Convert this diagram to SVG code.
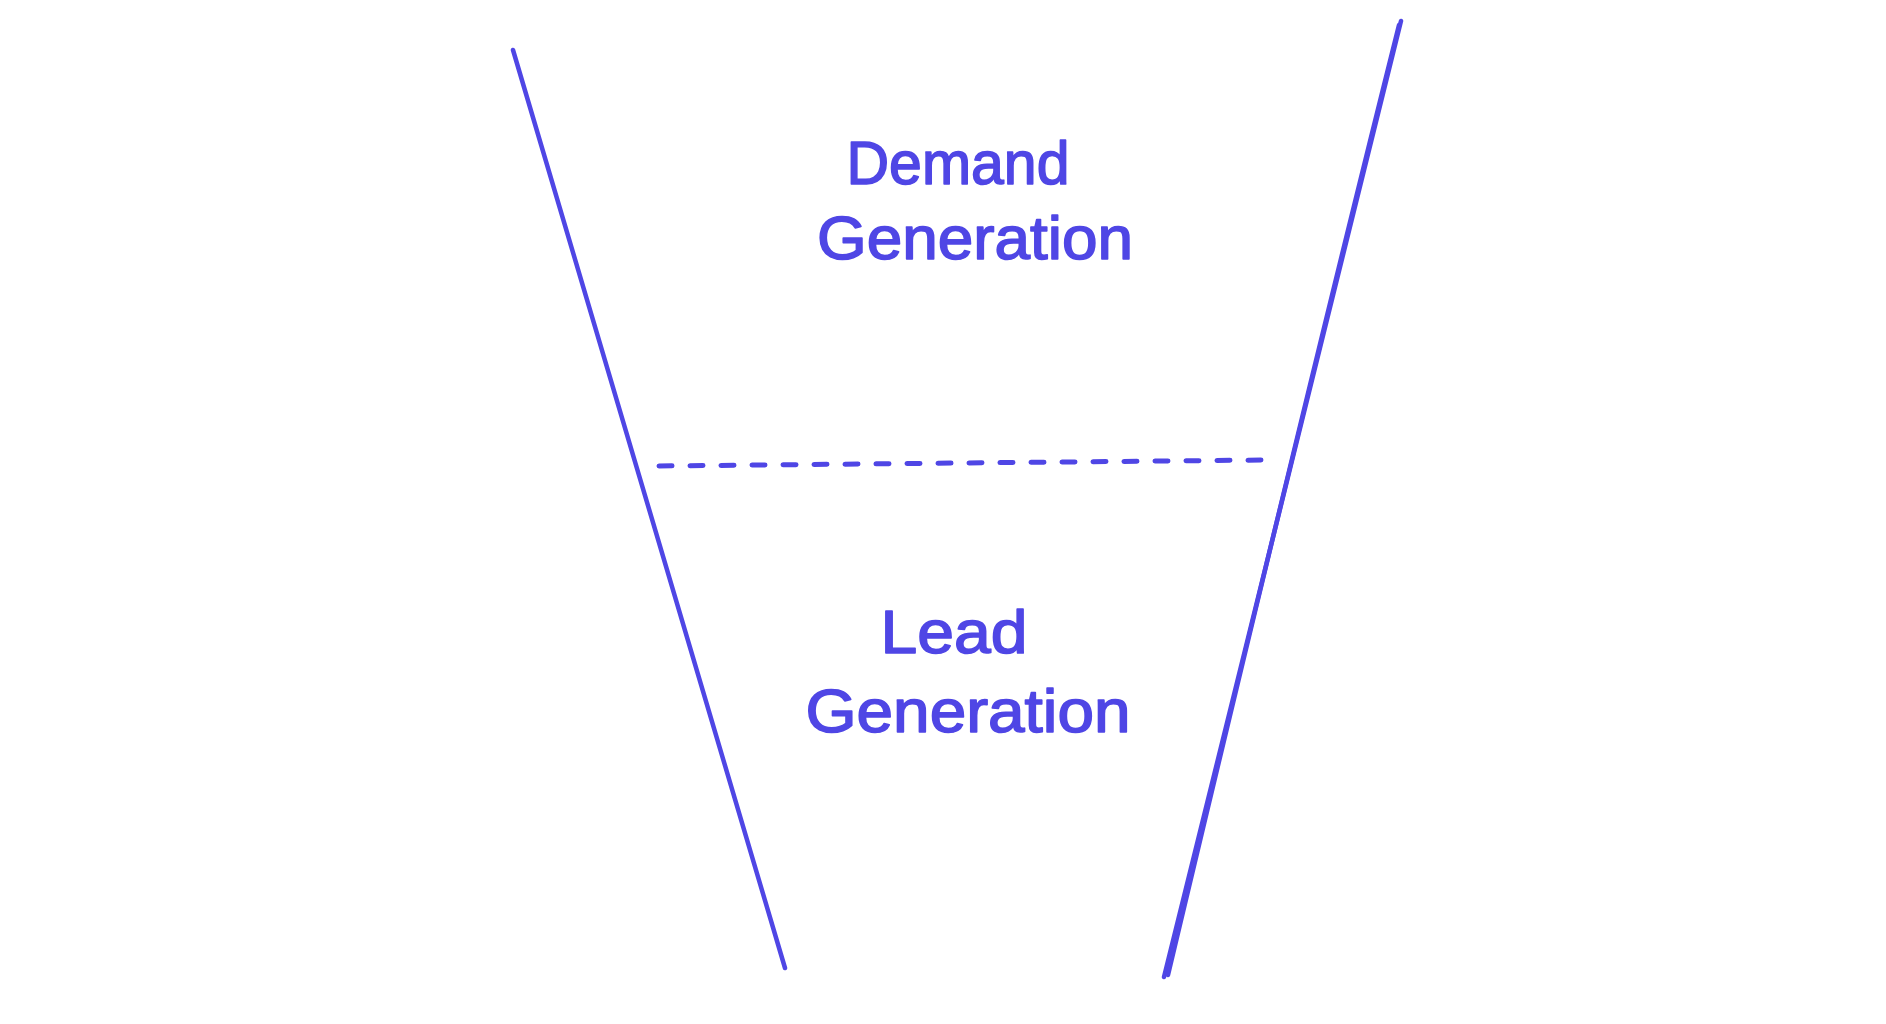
<svg xmlns="http://www.w3.org/2000/svg" width="1886" height="1024" viewBox="0 0 1886 1024">
<style>
.ln{fill:none;stroke:#4f46e5;stroke-width:4.5;stroke-linecap:round;stroke-linejoin:round}
.dash{fill:none;stroke:#4f46e5;stroke-width:5;stroke-linecap:round;stroke-dasharray:13 18}
.lbl{font-family:"Liberation Sans","DejaVu Sans",sans-serif;font-size:62px;fill:#4f46e5;stroke:#4f46e5;stroke-width:1.6;stroke-linejoin:round;text-anchor:middle}
</style>
<rect width="1886" height="1024" fill="#ffffff"/>
<g id="connectors">
<path class="ln" d="M513 50 L785 968"/>
<path class="ln" d="M1401 21 L1164 977"/>
<path class="ln" d="M1399 25 Q1300 420 1168 975"/>
<path class="dash" d="M659 466 L1265 460"/>
</g>
<g id="demand">
<text class="lbl" x="958" y="184" textLength="223" lengthAdjust="spacingAndGlyphs">Demand</text>
<text class="lbl" x="975" y="259" textLength="316" lengthAdjust="spacingAndGlyphs">Generation</text>
</g>
<g id="lead">
<text class="lbl" x="954" y="653" textLength="147" lengthAdjust="spacingAndGlyphs">Lead</text>
<text class="lbl" x="968" y="732" textLength="325" lengthAdjust="spacingAndGlyphs">Generation</text>
</g>
</svg>
